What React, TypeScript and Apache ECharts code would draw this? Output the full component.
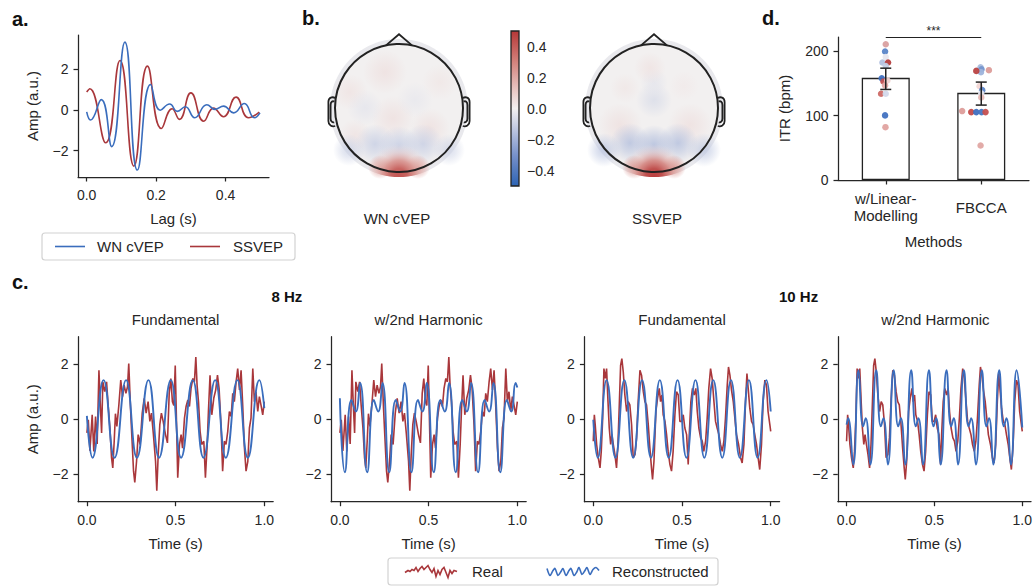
import React, { useEffect, useRef } from 'react';
import * as echarts from 'echarts';

// ---------------- data ----------------
// panel a: temporal response functions (lag in s, amplitude)
const lagWnCvep: number[][] = [
  [0, -0.1], [0.011, -0.5], [0.042, 0.5], [0.072, -1.81], [0.11, 3.32], [0.146, -2.96], [0.184, 1.24],
  [0.212, -0.02], [0.239, 0.28], [0.261, -0.08], [0.284, 0.15], [0.311, -0.39], [0.346, 0.25], [0.37, 0.02],
  [0.394, 0.18], [0.423, -0.15], [0.454, 0.31], [0.483, -0.39], [0.499, -0.15],
];
const lagSsvep: number[][] = [
  [0, 0.87], [0.009, 1.03], [0.055, -1.62], [0.096, 2.42], [0.136, -2.76], [0.175, 2.14], [0.215, -0.92],
  [0.246, 0.05], [0.267, -0.47], [0.3, 0.83], [0.337, -0.56], [0.365, 0.08], [0.394, -0.34], [0.43, 0.62],
  [0.466, -0.39], [0.497, -0.11],
];
const lagTicks = [0, 0.2, 0.4];
const lagAmpTicks = [-2, 0, 2];

// panel b: topographies  [dx, dy, radius, value]
const colorbarTicks = [-0.4, -0.2, 0, 0.2, 0.4];
const topoWnSources: number[][] = [
  [-14, -36, 22, 0.05], [-49, -16, 18, 0.04], [-6, 10, 22, 0.05], [31, 20, 20, 0.05], [-44, 27, 16, 0.04],
  [41, -26, 18, 0.03], [-34, 0, 18, -0.04], [16, -8, 18, -0.03],
  [-24, 36, 20, -0.12], [0, 38, 20, -0.13], [24, 36, 20, -0.12], [-50, 42, 16, -0.11], [50, 42, 16, -0.1],
  [-19, 59, 12, 0.3], [19, 59, 12, 0.3],
];
const topoSsvepSources: number[][] = [
  [0, -8, 18, -0.07], [0, -26, 14, -0.04], [-4, -40, 16, 0.04], [-34, 17, 22, 0.05], [36, 17, 22, 0.05],
  [-29, -20, 15, 0.03], [30, -22, 15, 0.02],
  [-24, 35, 20, -0.17], [0, 37, 20, -0.18], [24, 35, 20, -0.17], [-50, 42, 17, -0.15], [50, 42, 17, -0.14],
  [-20, 59, 12, 0.34], [20, 59, 12, 0.34],
];
const topoOccipital = [0.42, 0.48];

// panel d: ITR
const methods = ['w/Linear-\nModelling', 'FBCCA'];
const itrMean = [158.6, 135.3];
const itrLow = [140.6, 116.3];
const itrHigh = [173.6, 152.0];
const itrTicks = [0, 100, 200];
const subjLinear: [number, number, string][] = [
  [0.0, 210.8, '#d9a0a0'], [-0.007, 199.5, '#5a85c8'], [0.0, 191, '#e6e6ee'], [-0.035, 182.4, '#b3c2e0'],
  [0.024, 182.4, '#b53e3e'], [0.0, 177, '#c3cde4'], [-0.042, 158, '#3f70c0'], [-0.024, 153, '#c25252'],
  [0.017, 154.6, '#f0d4d2'], [-0.007, 146.8, '#e2a9a6'], [-0.049, 133.9, '#cd6a66'], [0.0, 133.9, '#d3d9eb'],
  [-0.007, 100.3, '#4272c1'], [-0.003, 82, '#e0a3a0'],
];
const subjFbcca: [number, number, string][] = [
  [-0.007, 175, '#a9badc'], [0.003, 172, '#7696cd'], [-0.003, 167.4, '#9fb4db'], [0.08, 170.5, '#dc9c99'],
  [-0.052, 169.4, '#b94343'], [-0.017, 145.7, '#f2d6d4'], [0.01, 139.5, '#5c84c6'], [0.0, 134.4, '#e4e4ec'],
  [0.0, 128.2, '#e8b9b6'], [-0.2, 107, '#dd9d9a'], [-0.105, 105.4, '#c44a48'], [-0.052, 105.4, '#3e6fc0'],
  [0.003, 105.4, '#4676c2'], [0.045, 105.4, '#c65050'], [-0.007, 53.5, '#e0a6a3'],
];

// panel c: real vs reconstructed responses
const timeTicks = [0, 0.5, 1];
const ampTicks = [-2, 0, 2];
const real8Hz: number[][] = [
  [0, -0.5], [0.008, -0.02], [0.017, -1.15], [0.03, 0.16], [0.039, -1.17], [0.049, 0.1], [0.058, -0.9],
  [0.068, 1.78], [0.075, 0.64], [0.083, -0.5], [0.09, 1.36], [0.101, 1.0], [0.111, 1.36], [0.12, 0.5],
  [0.13, -0.32], [0.139, -1.4], [0.146, -1.77], [0.154, -0.8], [0.161, 0.2], [0.169, -0.26], [0.18, 0.5],
  [0.191, 1.42], [0.201, 0.82], [0.21, 1.24], [0.22, 0.94], [0.229, 1.18], [0.236, 2.02], [0.246, 0.4],
  [0.253, -0.56], [0.263, -1.89], [0.27, -2.3], [0.28, -1.53], [0.289, -0.56], [0.3, -0.92], [0.312, 0.22],
  [0.323, 0.76], [0.334, 0.22], [0.345, 0.64], [0.355, -0.08], [0.364, 0.22], [0.375, -0.56], [0.387, -1.53],
  [0.394, -2.6], [0.402, -1.28], [0.411, -0.2], [0.42, 0.22], [0.43, -0.08], [0.443, -0.56], [0.454, -0.86],
  [0.464, 0.94], [0.473, 1.48], [0.482, 0.64], [0.49, 0.5], [0.498, 1.95], [0.512, -2.13], [0.522, -0.92],
  [0.531, -0.56], [0.539, -1.05], [0.55, 0.04], [0.559, 0.46], [0.569, 0.7], [0.578, 0.46], [0.587, 1.12],
  [0.597, 1.48], [0.606, 1.36], [0.614, 2.26], [0.621, 1.24], [0.629, 0.64], [0.638, -0.44], [0.647, -0.92],
  [0.659, -0.8], [0.668, -2.13], [0.678, -0.92], [0.685, 0.28], [0.694, 1.6], [0.704, 0.16], [0.715, 0.76],
  [0.726, 1.06], [0.736, 1.6], [0.745, 1.12], [0.756, -0.2], [0.765, -1.89], [0.775, -0.8], [0.784, -0.92],
  [0.794, -0.44], [0.803, 0.28], [0.813, 0.1], [0.822, 0.94], [0.831, 0.64], [0.841, 1.36], [0.85, 1.84],
  [0.86, 1.06], [0.869, 1.78], [0.878, 0.52], [0.888, -1.05], [0.897, -1.89], [0.907, -1.53], [0.916, -0.32],
  [0.925, 0.04], [0.935, 1.84], [0.944, 0.64], [0.953, 1.0], [0.963, 0.28], [0.972, 0.82], [0.981, 0.52],
  [0.991, 0.16], [1.0, 0.64],
];
const recon8Fund: number[][] = [
  [0, 0.12], [0.032, -1.4], [0.094, 1.42], [0.156, -1.4], [0.221, 1.42], [0.282, -1.4], [0.347, 1.42],
  [0.407, -1.4], [0.473, 1.42], [0.531, -1.4], [0.597, 1.42], [0.657, -1.4], [0.723, 1.42], [0.783, -1.4],
  [0.848, 1.42], [0.907, -1.4], [0.972, 1.42], [1.0, 0.4],
];
const recon8Harm: number[][] = [
  [0, 0.76], [0.028, -1.93], [0.065, 0.7], [0.09, 0.28], [0.114, 1.32],
  [0.154, -1.93], [0.191, 0.7], [0.216, 0.28], [0.24, 1.32],
  [0.278, -1.93], [0.315, 0.7], [0.34, 0.28], [0.364, 1.32],
  [0.403, -1.93], [0.44, 0.7], [0.465, 0.28], [0.489, 1.32],
  [0.529, -1.93], [0.566, 0.7], [0.591, 0.28], [0.615, 1.32],
  [0.653, -1.93], [0.69, 0.7], [0.715, 0.28], [0.739, 1.32],
  [0.779, -1.93], [0.816, 0.7], [0.841, 0.28], [0.865, 1.32],
  [0.904, -1.93], [0.941, 0.7], [0.966, 0.28], [0.99, 1.32], [1.0, 1.15],
];
const real10Hz: number[][] = [
  [0, -0.8], [0.006, 0.16], [0.011, -0.2], [0.019, -0.92], [0.028, -1.4], [0.038, -1.77], [0.045, -1.17],
  [0.053, 0.04], [0.06, 1.84], [0.068, 1.48], [0.075, 1.84], [0.083, 0.64], [0.09, -0.32], [0.098, -0.92],
  [0.105, -0.56], [0.113, -0.92], [0.122, -1.29], [0.131, -1.77], [0.139, -0.92], [0.146, 0.4], [0.154, 1.96],
  [0.161, 2.2], [0.169, 1.72], [0.178, 0.88], [0.188, 0.28], [0.197, 0.64], [0.206, 0.52], [0.216, -0.2],
  [0.225, -1.4], [0.235, -1.29], [0.244, -0.68], [0.253, 0.64], [0.263, 1.78], [0.272, 1.6], [0.282, 1.0],
  [0.291, 0.64], [0.3, 0.52], [0.31, -0.2], [0.319, -1.05], [0.328, -1.77], [0.334, -2.19], [0.342, -1.53],
  [0.353, 0.28], [0.362, 0.76], [0.372, 1.12], [0.379, 0.64], [0.387, 0.88], [0.394, 0.16], [0.404, -0.08],
  [0.413, -0.56], [0.422, -1.17], [0.432, -1.65], [0.441, -1.89], [0.45, -1.17], [0.46, 0.16], [0.469, 1.0],
  [0.479, 0.88], [0.488, -0.08], [0.498, -0.08], [0.507, 0.16], [0.516, -0.32], [0.526, -0.56], [0.535, -1.65],
  [0.541, -0.56], [0.55, 0.64], [0.559, 1.12], [0.569, 0.88], [0.578, 1.12], [0.586, 0.28], [0.595, -0.32],
  [0.605, -0.68], [0.614, -0.8], [0.623, -1.17], [0.633, -0.8], [0.642, 0.04], [0.651, 1.12], [0.661, 1.84],
  [0.67, 1.48], [0.68, 0.64], [0.689, -0.08], [0.698, -0.32], [0.708, -0.56], [0.717, -0.92], [0.727, -1.17],
  [0.736, -0.8], [0.745, 0.04], [0.755, 1.24], [0.762, 1.9], [0.77, 1.6], [0.779, 1.06], [0.789, 0.64],
  [0.798, 0.04], [0.807, -0.56], [0.819, -0.92], [0.83, -1.4], [0.839, -1.59], [0.849, -0.92], [0.858, 0.64],
  [0.866, 1.66], [0.873, 1.12], [0.882, 0.4], [0.892, -0.08], [0.901, -0.2], [0.91, -0.56], [0.92, -0.92],
  [0.929, -1.4], [0.938, -1.83], [0.948, -0.92], [0.957, 0.64], [0.967, 1.42], [0.976, 1.24], [0.985, 0.28],
  [0.995, -0.2], [1.0, -0.44],
];
const recon10Fund: number[][] = [
  [0, -0.02], [0.025, -1.4], [0.075, 1.42], [0.125, -1.4], [0.175, 1.42], [0.225, -1.4], [0.275, 1.42],
  [0.325, -1.4], [0.375, 1.42], [0.425, -1.4], [0.475, 1.42], [0.525, -1.4], [0.576, 1.42], [0.626, -1.4],
  [0.676, 1.42], [0.727, -1.4], [0.776, 1.42], [0.826, -1.4], [0.877, 1.42], [0.926, -1.4], [0.976, 1.42],
  [1.0, 0.28],
];
const recon10Harm: number[][] = [
  [0, -0.2], [0.009, 0.04], [0.038, -1.65], [0.068, 1.78], [0.094, -0.26], [0.109, 0.04],
  [0.135, -1.65], [0.169, 1.78], [0.195, -0.26], [0.21, 0.04],
  [0.235, -1.65], [0.268, 1.78], [0.294, -0.26], [0.309, 0.04],
  [0.334, -1.65], [0.368, 1.78], [0.394, -0.26], [0.409, 0.04],
  [0.435, -1.65], [0.469, 1.78], [0.495, -0.26], [0.51, 0.04],
  [0.535, -1.65], [0.569, 1.78], [0.595, -0.26], [0.61, 0.04],
  [0.634, -1.65], [0.668, 1.78], [0.694, -0.26], [0.709, 0.04],
  [0.736, -1.65], [0.77, 1.78], [0.796, -0.26], [0.811, 0.04],
  [0.835, -1.65], [0.869, 1.78], [0.895, -0.26], [0.91, 0.04],
  [0.935, -1.65], [0.968, 1.78], [1.0, -0.3],
];

// ---------------- style / layout ----------------
const W = 1035;
const H = 588;
const FONT = '"Liberation Sans", Arial, Helvetica, sans-serif';
const INK = '#262626';
const BLUE = '#3a6dbd';
const RED = '#a9373b';

const VLAG: [number, number[]][] = [
  [0, [45, 100, 180]], [0.18, [112, 139, 200]], [0.38, [196, 204, 227]], [0.5, [242, 240, 240]],
  [0.62, [233, 199, 196]], [0.82, [208, 122, 116]], [1, [182, 55, 55]],
];
function vlag(v: number, a = 1): string {
  const t = Math.max(0, Math.min(1, v + 0.5));
  for (let i = 1; i < VLAG.length; i++) {
    if (t <= VLAG[i][0] + 1e-9) {
      const [t0, c0] = VLAG[i - 1];
      const [t1, c1] = VLAG[i];
      const f = (t - t0) / (t1 - t0);
      const c = c0.map((x, k) => Math.round(x + (c1[k] - x) * f));
      return `rgba(${c[0]},${c[1]},${c[2]},${a})`;
    }
  }
  const c = VLAG[VLAG.length - 1][1];
  return `rgba(${c[0]},${c[1]},${c[2]},${a})`;
}
const fmtSigned = (v: number, d: number) => (v < -1e-9 ? '\u2212' : '') + Math.abs(v).toFixed(d);

const headD =
  'M-13,-62.6 L0,-73.8 L13,-62.6 ' +
  'M-63.6,-10 C-66.5,-11.5 -70.6,-11 -70.6,-6 L-70.6,13 C-70.6,17.5 -67,19 -63.8,18 ' +
  'M-64.6,-6.5 C-66.6,-7.2 -68.4,-6.5 -68.4,-3 L-68.4,10.5 C-68.4,13.5 -66.6,14.8 -64.8,14.3 ' +
  'M63.6,-10 C66.5,-11.5 70.6,-11 70.6,-6 L70.6,13 C70.6,17.5 67,19 63.8,18 ' +
  'M64.6,-6.5 C66.6,-7.2 68.4,-6.5 68.4,-3 L68.4,10.5 C68.4,13.5 66.6,14.8 64.8,14.3';
echarts.graphic.registerShape('headParts', echarts.graphic.extendPath(headD, {}) as any);

const axisLine = { show: true, onZero: false, lineStyle: { color: INK, width: 1.25 } };
const tick = (vals: number[]) => ({ show: true, inside: false, length: 4.5, customValues: vals, lineStyle: { color: INK, width: 1.25 } });
const label = (vals: number[] | null, fmt: (v: number) => string, margin: number) => ({
  show: true, color: INK, fontSize: 14, fontFamily: FONT, margin, formatter: fmt, ...(vals ? { customValues: vals } : {}),
});
const nameStyle = { color: INK, fontSize: 15, fontFamily: FONT };

const T = (text: string, x: number, y: number, o: any = {}) => ({
  type: 'text', x, y, silent: true, z: 20,
  style: { text, fill: INK, fontFamily: FONT, fontSize: 15, align: 'center', verticalAlign: 'middle', ...o },
});

function topo(cx: number, cy: number, sources: number[][], peak: number): any[] {
  const R = 69;
  const els: any[] = [];
  els.push({ type: 'circle', silent: true, z: 1, shape: { cx, cy, r: R }, style: { fill: '#e9e9ed' } });
  els.push({ type: 'circle', silent: true, z: 2, shape: { cx, cy, r: 65 }, style: { fill: vlag(0) } });
  sources.forEach(([dx, dy, r, v]) => {
    els.push({
      type: 'circle', silent: true, z: 3, shape: { cx: cx + dx, cy: cy + dy, r },
      style: {
        fill: new echarts.graphic.RadialGradient(0.5, 0.5, 0.5, [
          { offset: 0, color: vlag(v, 0.75) }, { offset: 0.45, color: vlag(v, 0.45) }, { offset: 1, color: vlag(v, 0) },
        ]),
      },
    });
  });
  els.push({
    type: 'circle', silent: true, z: 4, shape: { cx, cy, r: R },
    style: {
      fill: new echarts.graphic.RadialGradient(0.5, 1.0, 0.6, [
        { offset: 0, color: vlag(peak, 1) },
        { offset: 0.1, color: vlag(peak * 0.9, 1) },
        { offset: 0.2, color: vlag(peak * 0.6, 0.9) },
        { offset: 0.3, color: vlag(peak * 0.3, 0.45) },
        { offset: 0.4, color: vlag(peak * 0.1, 0) },
        { offset: 1, color: vlag(0, 0) },
      ]),
    },
  });
  els.push({ type: 'circle', silent: true, z: 5, shape: { cx, cy, r: 64 }, style: { fill: 'none', stroke: '#222', lineWidth: 2 } });
  els.push({ type: 'headParts', silent: true, z: 5, x: cx, y: cy, style: { fill: 'none', stroke: '#222', lineWidth: 1.8 } });
  return els;
}

// grid boxes
const gridA = { left: 78, top: 35, width: 191, height: 142 };
const gridCb = { left: 511, top: 31, width: 8, height: 155 };
const gridD = { left: 838, top: 37, width: 191, height: 143 };
const gridCLeft = [78, 331, 584.4, 837.8];
const gridCTop = 336.7;
const gridCW = 195.2;
const gridCH = 165;

const panelsC = [
  { title: 'Fundamental', real: real8Hz, recon: recon8Fund },
  { title: 'w/2nd Harmonic', real: real8Hz, recon: recon8Harm },
  { title: 'Fundamental', real: real10Hz, recon: recon10Fund },
  { title: 'w/2nd Harmonic', real: real10Hz, recon: recon10Harm },
];

function buildOption(): any {
  const grids: any[] = [gridA, gridCb, gridD, ...gridCLeft.map((l) => ({ left: l, top: gridCTop, width: gridCW, height: gridCH }))];
  const xAxes: any[] = [];
  const yAxes: any[] = [];
  const series: any[] = [];

  // ---- panel a ----
  xAxes.push({
    type: 'value', gridIndex: 0, min: -0.025, max: 0.525, axisLine, axisTick: tick(lagTicks),
    axisLabel: label(lagTicks, (v) => v.toFixed(1), 11), splitLine: { show: false },
    name: 'Lag (s)', nameLocation: 'middle', nameGap: 34, nameTextStyle: nameStyle, nameMoveOverlap: false,
  });
  yAxes.push({
    type: 'value', gridIndex: 0, min: -3.3, max: 3.67, axisLine, axisTick: tick(lagAmpTicks),
    axisLabel: label(lagAmpTicks, (v) => fmtSigned(v, 0), 9.5), splitLine: { show: false },
    name: 'Amp (a.u.)', nameLocation: 'middle', nameRotate: 90, nameGap: 38, nameTextStyle: nameStyle, nameMoveOverlap: false,
  });
  series.push({
    type: 'line', name: 'WN cVEP', xAxisIndex: 0, yAxisIndex: 0, data: lagWnCvep, smooth: 0.5, symbol: 'none',
    lineStyle: { color: BLUE, width: 1.6 }, z: 3,
  });
  series.push({
    type: 'line', name: 'SSVEP', xAxisIndex: 0, yAxisIndex: 0, data: lagSsvep, smooth: 0.5, symbol: 'none',
    lineStyle: { color: RED, width: 1.6 }, z: 2,
  });

  // ---- panel b colorbar ----
  xAxes.push({ type: 'value', gridIndex: 1, min: 0, max: 1, show: false });
  yAxes.push({
    type: 'value', gridIndex: 1, position: 'right', min: -0.5, max: 0.5,
    axisLine: { show: false }, axisTick: { ...tick(colorbarTicks), length: 3.5 },
    axisLabel: label(colorbarTicks, (v) => fmtSigned(v, 1), 8), splitLine: { show: false },
  });
  const cbStops = [];
  for (let i = 0; i <= 20; i++) cbStops.push({ offset: i / 20, color: vlag(0.5 - i / 20) });
  series.push({
    type: 'custom', xAxisIndex: 1, yAxisIndex: 1, data: [[0, 1, -0.5, 0.5]], encode: { x: [0, 1], y: [2, 3] },
    renderItem: (_p: any, api: any) => {
      const p0 = api.coord([api.value(0), api.value(3)]);
      const p1 = api.coord([api.value(1), api.value(2)]);
      return {
        type: 'rect', shape: { x: p0[0], y: p0[1], width: p1[0] - p0[0], height: p1[1] - p0[1] },
        style: { fill: new echarts.graphic.LinearGradient(0, 0, 0, 1, cbStops), stroke: '#222', lineWidth: 1.3 },
      };
    },
  });

  // ---- panel d ----
  xAxes.push({
    type: 'category', gridIndex: 2, data: methods, axisLine, axisTick: { show: true, alignWithLabel: true, length: 4.5, lineStyle: { color: INK, width: 1.25 } },
    axisLabel: { color: INK, fontSize: 15, fontFamily: FONT, margin: 27, lineHeight: 17, verticalAlign: 'middle', interval: 0 },
    name: 'Methods', nameLocation: 'middle', nameGap: 54, nameTextStyle: nameStyle, nameMoveOverlap: false,
  });
  xAxes.push({ type: 'value', gridIndex: 2, min: -0.5, max: 1.5, show: false });
  yAxes.push({
    type: 'value', gridIndex: 2, min: 0, max: 222, axisLine, axisTick: tick(itrTicks),
    axisLabel: label(itrTicks, (v) => String(v), 9.5), splitLine: { show: false },
    name: 'ITR (bpm)', nameLocation: 'middle', nameRotate: 90, nameGap: 46, nameTextStyle: nameStyle, nameMoveOverlap: false,
  });
  const dX = 2;
  series.push({
    type: 'bar', xAxisIndex: dX, yAxisIndex: 2, data: itrMean, barWidth: 48, z: 2,
    itemStyle: { color: '#ffffff', borderColor: '#222', borderWidth: 1.3 },
    markLine: {
      silent: true, symbol: 'none', animation: false,
      lineStyle: { color: '#222', width: 1, type: 'solid' },
      label: { show: true, formatter: '***', position: 'insideMiddleTop', color: INK, fontSize: 12, fontFamily: FONT, distance: 0 },
      data: [[{ coord: [0, 221.3] }, { coord: [1, 221.3] }]],
    },
  });
  series.push({
    type: 'scatter', xAxisIndex: 3, yAxisIndex: 2, symbolSize: 6.5, z: 3,
    data: [
      ...subjLinear.map((s) => ({ value: [0 + s[0], s[1]], itemStyle: { color: s[2], opacity: 0.95 } })),
      ...subjFbcca.map((s) => ({ value: [1 + s[0], s[1]], itemStyle: { color: s[2], opacity: 0.95 } })),
    ],
  });
  series.push({
    type: 'custom', xAxisIndex: dX, yAxisIndex: 2, z: 4,
    data: methods.map((_m, i) => [i, itrLow[i], itrHigh[i]]), encode: { x: 0, y: [1, 2] },
    renderItem: (_p: any, api: any) => {
      const i = api.value(0);
      const lo = api.coord([i, api.value(1)]);
      const hi = api.coord([i, api.value(2)]);
      const st = { stroke: '#222', lineWidth: 1.5 };
      return {
        type: 'group',
        children: [
          { type: 'line', shape: { x1: lo[0], y1: lo[1], x2: hi[0], y2: hi[1] }, style: st },
          { type: 'line', shape: { x1: lo[0] - 5.5, y1: lo[1], x2: lo[0] + 5.5, y2: lo[1] }, style: st },
          { type: 'line', shape: { x1: hi[0] - 5.5, y1: hi[1], x2: hi[0] + 5.5, y2: hi[1] }, style: st },
        ],
      };
    },
  });

  // ---- panel c ----
  panelsC.forEach((p, k) => {
    const g = 3 + k;
    const xi = xAxes.length;
    const yi = yAxes.length;
    xAxes.push({
      type: 'value', gridIndex: g, min: -0.05, max: 1.05, axisLine, axisTick: tick(timeTicks),
      axisLabel: label(timeTicks, (v) => v.toFixed(1), 11), splitLine: { show: false },
      name: 'Time (s)', nameLocation: 'middle', nameGap: 34, nameTextStyle: nameStyle, nameMoveOverlap: false,
    });
    yAxes.push({
      type: 'value', gridIndex: g, min: -3, max: 3, axisLine, axisTick: tick(ampTicks),
      axisLabel: label(ampTicks, (v) => fmtSigned(v, 0), 9.5), splitLine: { show: false },
      ...(k === 0 ? { name: 'Amp (a.u.)', nameLocation: 'middle', nameRotate: 90, nameGap: 38, nameTextStyle: nameStyle, nameMoveOverlap: false } : {}),
    });
    series.push({
      type: 'line', name: 'Real', xAxisIndex: xi, yAxisIndex: yi, data: p.real, symbol: 'none',
      lineStyle: { color: RED, width: 1.6 }, z: 2,
    });
    series.push({
      type: 'line', name: 'Reconstructed', xAxisIndex: xi, yAxisIndex: yi, data: p.recon, smooth: 0.5, symbol: 'none',
      lineStyle: { color: BLUE, width: 1.9 }, z: 3,
    });
  });

  // ---- graphics ----
  const graphics: any[] = [];
  graphics.push(T('a.', 12, 19, { align: 'left', fontSize: 20, fontWeight: 'bold', fill: '#111' }));
  graphics.push(T('b.', 302, 18, { align: 'left', fontSize: 20, fontWeight: 'bold', fill: '#111' }));
  graphics.push(T('c.', 12, 282, { align: 'left', fontSize: 20, fontWeight: 'bold', fill: '#111' }));
  graphics.push(T('d.', 762, 18, { align: 'left', fontSize: 20, fontWeight: 'bold', fill: '#111' }));

  graphics.push(...topo(399, 108, topoWnSources, topoOccipital[0]));
  graphics.push(...topo(654, 108, topoSsvepSources, topoOccipital[1]));
  graphics.push(T('WN cVEP', 397, 218));
  graphics.push(T('SSVEP', 657, 218));

  // panel a legend
  graphics.push({ type: 'rect', silent: true, z: 15, shape: { x: 42, y: 233, width: 253, height: 27, r: 3 }, style: { fill: '#fff', stroke: '#d2d2d2', lineWidth: 1.2 } });
  graphics.push({ type: 'line', silent: true, z: 16, shape: { x1: 55, y1: 246.5, x2: 85, y2: 246.5 }, style: { stroke: BLUE, lineWidth: 1.6 } });
  graphics.push(T('WN cVEP', 97, 246.5, { align: 'left' }));
  graphics.push({ type: 'line', silent: true, z: 16, shape: { x1: 190, y1: 246.5, x2: 220, y2: 246.5 }, style: { stroke: RED, lineWidth: 1.6 } });
  graphics.push(T('SSVEP', 233, 246.5, { align: 'left' }));

  // panel c headings
  graphics.push(T('8 Hz', 271.5, 296, { align: 'left', fontWeight: 'bold', fill: '#111' }));
  graphics.push(T('10 Hz', 779, 296, { align: 'left', fontWeight: 'bold', fill: '#111' }));
  panelsC.forEach((p, k) => graphics.push(T(p.title, gridCLeft[k] + gridCW / 2, 319)));

  // panel c legend
  const redIcon = [[0, 1], [3, -1], [5, 0], [7, -2], [9, -1], [11, -4], [13, 0], [15, -3], [17, -5], [19, -2], [21, -4], [23, -6], [25, -2], [27, 1], [29, -3], [31, 5], [33, -1], [35, 3], [37, -2], [39, -4], [41, 1], [43, 6], [45, -1], [47, 2], [49, -1], [52, 0]];
  const blueIcon = [[0, -3], [3, 4], [6, -1], [8, -3], [11, 4], [14, 0], [16, -3], [19, 4], [22, -1], [24, -3], [27, 4], [30, 0], [32, -4], [35, 3], [38, -1], [40, -4], [43, 3], [46, -2], [49, -4], [52, -1]];
  graphics.push({ type: 'rect', silent: true, z: 15, shape: { x: 388, y: 558, width: 330, height: 27, r: 3 }, style: { fill: '#fff', stroke: '#d2d2d2', lineWidth: 1.2 } });
  graphics.push({ type: 'polyline', silent: true, z: 16, shape: { points: redIcon.map(([dx, dy]) => [405 + dx, 571.5 + dy]) }, style: { fill: 'none', stroke: RED, lineWidth: 1.6 } });
  graphics.push(T('Real', 472, 571.5, { align: 'left' }));
  graphics.push({ type: 'polyline', silent: true, z: 16, shape: { points: blueIcon.map(([dx, dy]) => [547 + dx, 571.5 + dy]), smooth: 0.3 }, style: { fill: 'none', stroke: BLUE, lineWidth: 1.6 } });
  graphics.push(T('Reconstructed', 612, 571.5, { align: 'left' }));

  return {
    animation: false,
    backgroundColor: '#ffffff',
    textStyle: { fontFamily: FONT },
    grid: grids,
    xAxis: xAxes,
    yAxis: yAxes,
    series,
    graphic: { elements: graphics },
  };
}

export default function App() {
  const ref = useRef<HTMLDivElement>(null);
  useEffect(() => {
    const chart = echarts.init(ref.current!, undefined, { renderer: 'svg', width: W, height: H });
    chart.setOption(buildOption());
    return () => chart.dispose();
  }, []);
  return <div ref={ref} style={{ position: 'fixed', left: 0, top: 0, width: W, height: H, background: '#fff' }} />;
}
